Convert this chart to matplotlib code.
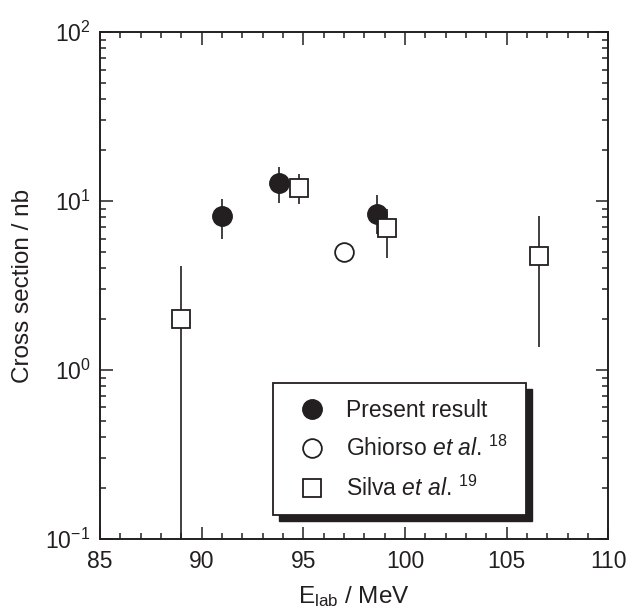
import numpy as np
import matplotlib
matplotlib.use('Agg')
import matplotlib.pyplot as plt
from matplotlib.patches import Rectangle
from matplotlib.lines import Line2D
from matplotlib.ticker import MultipleLocator

plt.rcParams['font.family'] = 'Liberation Sans'
plt.rcParams['mathtext.fontset'] = 'custom'
plt.rcParams['mathtext.rm'] = 'Liberation Sans'
plt.rcParams['mathtext.it'] = 'Liberation Sans:italic'
plt.rcParams['mathtext.bf'] = 'Liberation Sans:bold'

# present result
e_present = [91.0, 93.8, 98.6]
s_present = [8.2, 12.7, 8.4]
lo_present = [6.0, 9.7, 6.4]
hi_present = [10.3, 15.8, 10.8]

# Ghiorso et al.
e_ghiorso = [97.0]
s_ghiorso = [5.0]

# Silva et al.
e_silva = [89.0, 94.8, 99.1, 106.6]
s_silva = [2.0, 12.0, 6.9, 4.7]
lo_silva = [0.01, 9.6, 4.6, 1.36]
hi_silva = [4.1, 14.4, 9.0, 8.1]

labels = ['Present result',
          r'Ghiorso $\it{et\ al}$. $^{18}$',
          r'Silva $\it{et\ al}$. $^{19}$']

fig = plt.figure(figsize=(6.26, 6.1), dpi=100)
ax = fig.add_axes([0.16, 0.1164, 0.8115, 0.8311])

def yerr(s, lo, hi):
    s = np.array(s)
    return [s - np.array(lo), np.array(hi) - s]

ax.errorbar(e_present, s_present, yerr=yerr(s_present, lo_present, hi_present),
            fmt='o', ms=14, color='#231f20', mfc='#231f20', mec='#231f20',
            elinewidth=1.2, capsize=0, zorder=3)
ax.plot(e_ghiorso, s_ghiorso, 'o', ms=13.5, mfc='white', mec='#231f20',
        mew=1.3, zorder=4)
ax.errorbar(e_silva, s_silva, yerr=yerr(s_silva, lo_silva, hi_silva),
            fmt='s', ms=13.5, color='#231f20', mfc='white', mec='#231f20',
            mew=1.3, elinewidth=1.2, capsize=0, zorder=5)

ax.set_yscale('log')
ax.set_xlim(85, 110)
ax.set_ylim(0.1, 100)
ax.xaxis.set_major_locator(MultipleLocator(5))
ax.xaxis.set_minor_locator(MultipleLocator(1))
ax.tick_params(which='both', direction='in', top=True, right=True,
               width=1.1, color='#231f20', labelsize=16.5, labelcolor='#231f20')
ax.tick_params(which='major', length=9)
ax.tick_params(which='minor', length=4.5)
ax.tick_params(axis='x', pad=8)
ax.tick_params(axis='y', pad=7)
for sp in ax.spines.values():
    sp.set_linewidth(1.4)
    sp.set_color('#231f20')

ax.set_xlabel(r'E$_{\rm lab}$ / MeV', fontsize=17.5, color='#231f20', labelpad=8)
ax.set_ylabel('Cross section / nb', fontsize=17.5, color='#231f20', labelpad=8)

# legend box with shadow
bx, by, bw, bh = 0.341, 0.047, 0.498, 0.261
dx, dy = 0.012, 0.012
ax.add_patch(Rectangle((bx + dx, by - dy), bw, bh, transform=ax.transAxes,
                       facecolor='#231f20', edgecolor='#231f20', zorder=6))
ax.add_patch(Rectangle((bx, by), bw, bh, transform=ax.transAxes,
                       facecolor='white', edgecolor='#231f20', lw=1.3, zorder=7))

handles = [
    Line2D([], [], ls='none', marker='o', ms=14, mfc='#231f20', mec='#231f20'),
    Line2D([], [], ls='none', marker='o', ms=13.5, mfc='white', mec='#231f20', mew=1.3),
    Line2D([], [], ls='none', marker='s', ms=13.5, mfc='white', mec='#231f20', mew=1.3),
]
leg = ax.legend(handles, labels, loc='center left', bbox_to_anchor=(0.395, 0.176),
                frameon=False, fontsize=16.5, handlelength=1.0, handletextpad=0.95,
                labelspacing=0.62, borderpad=0, borderaxespad=0)
leg.set_zorder(8)
for t in leg.get_texts():
    t.set_color('#231f20')

fig.savefig('out.png', dpi=100)
